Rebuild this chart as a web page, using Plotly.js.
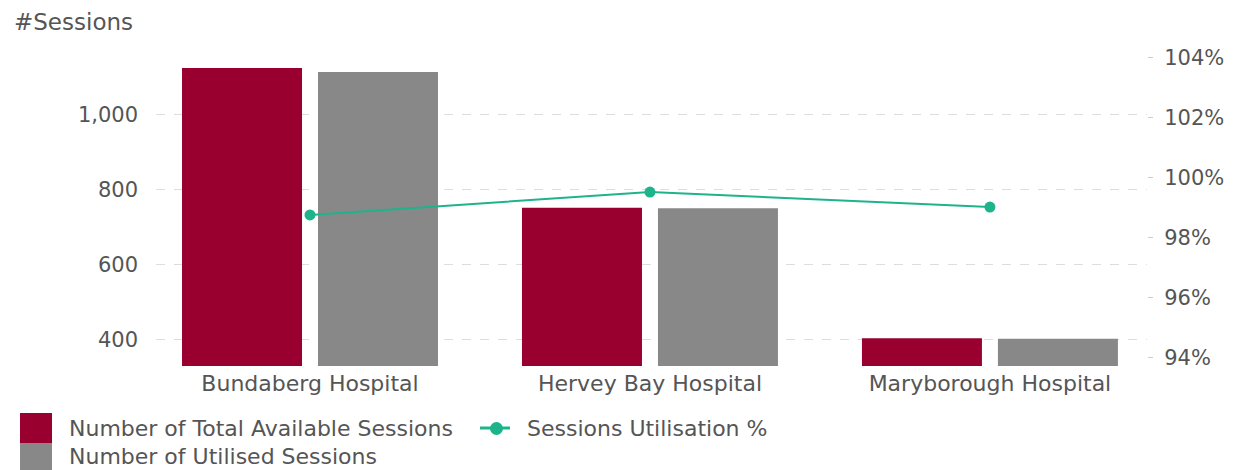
<!DOCTYPE html>
<html>
<head>
<meta charset="utf-8">
<script src="https://cdn.plot.ly/plotly-3.0.1.min.js"></script>
<style>
  html, body { margin: 0; padding: 0; background: #ffffff; }
  #chart { width: 1234px; height: 470px; }
</style>
</head>
<body>
<div id="chart"></div>
<script>
// ---- Data ----
const categories = ['Bundaberg Hospital', 'Hervey Bay Hospital', 'Maryborough Hospital'];
const availableSessions = [1124, 751, 403];
const utilisedSessions = [1113, 750, 402];
const utilisationPct = [0.9877, 0.9953, 0.9903];
const seriesNames = ['Number of Total Available Sessions', 'Number of Utilised Sessions', 'Sessions Utilisation %'];
const leftTickValues = [400, 600, 800, 1000];
const rightTickValues = [0.94, 0.96, 0.98, 1.00, 1.02, 1.04];

// ---- Styles ----
const W = 1234, H = 470;
const M = { l: 156, r: 87, t: 45, b: 104 };
const colAvail = '#990030';
const colUsed = '#888888';
const colLine = '#1db48c';
const textCol = '#555555';
const FONT = 'DejaVu Sans, sans-serif';

const plotW = W - M.l - M.r, plotH = H - M.t - M.b;
const px = x => (x - M.l) / plotW;           // pixel x -> paper x
const py = y => (H - M.b - y) / plotH;       // pixel y -> paper y

const traces = [
  { type: 'bar', name: seriesNames[0], x: categories, y: availableSessions,
    marker: { color: colAvail }, yaxis: 'y', showlegend: false, hoverinfo: 'skip' },
  { type: 'bar', name: seriesNames[1], x: categories, y: utilisedSessions,
    marker: { color: colUsed }, yaxis: 'y', showlegend: false, hoverinfo: 'skip' },
  { type: 'scatter', mode: 'lines+markers', name: seriesNames[2], x: categories, y: utilisationPct,
    yaxis: 'y2', line: { color: colLine, width: 2 }, marker: { color: colLine, size: 11 },
    showlegend: false, hoverinfo: 'skip' }
];

// custom legend (large swatches like the original)
const shapes = [
  { type: 'rect', xref: 'paper', yref: 'paper', x0: px(20), x1: px(52), y0: py(443), y1: py(413),
    fillcolor: colAvail, line: { width: 0 } },
  { type: 'rect', xref: 'paper', yref: 'paper', x0: px(20), x1: px(52), y0: py(472), y1: py(443),
    fillcolor: colUsed, line: { width: 0 } },
  { type: 'line', xref: 'paper', yref: 'paper', x0: px(480), x1: px(510), y0: py(428), y1: py(428),
    line: { color: colLine, width: 3 } },
  { type: 'circle', xref: 'paper', yref: 'paper', x0: px(490), x1: px(503), y0: py(435), y1: py(422),
    fillcolor: colLine, line: { width: 0 } }
];
const annotations = [
  { xref: 'paper', yref: 'paper', x: px(67), y: py(428), xanchor: 'left', yanchor: 'middle',
    text: seriesNames[0], showarrow: false, font: { family: FONT, size: 22, color: textCol } },
  { xref: 'paper', yref: 'paper', x: px(67), y: py(456), xanchor: 'left', yanchor: 'middle',
    text: seriesNames[1], showarrow: false, font: { family: FONT, size: 22, color: textCol } },
  { xref: 'paper', yref: 'paper', x: px(525), y: py(428), xanchor: 'left', yanchor: 'middle',
    text: seriesNames[2], showarrow: false, font: { family: FONT, size: 22, color: textCol } }
];

const layout = {
  width: W, height: H,
  margin: M,
  paper_bgcolor: '#ffffff', plot_bgcolor: '#ffffff',
  font: { family: FONT, color: textCol, size: 22 },
  title: { text: '#Sessions', xref: 'container', yref: 'container', x: 14 / W, xanchor: 'left',
           y: 1 - 22 / H, yanchor: 'middle', font: { family: FONT, size: 23, color: textCol } },
  barmode: 'group', bargap: 0.2, bargroupgap: 0.1176,
  showlegend: false,
  xaxis: { type: 'category', range: [-0.453, 2.462], showgrid: false, zeroline: false, showline: false,
           ticks: '', tickfont: { family: FONT, size: 22, color: textCol }, ticklabelstandoff: 2 },
  yaxis: { range: [329, 1185], tickmode: 'array', tickvals: leftTickValues, tickformat: ',d',
           showgrid: true, gridcolor: '#dddddd', griddash: 'dash', gridwidth: 1,
           zeroline: false, showline: false, ticks: '', ticklabelstandoff: 17,
           tickfont: { family: FONT, size: 21, color: textCol } },
  yaxis2: { overlaying: 'y', side: 'right', range: [0.93733, 1.04433], tickmode: 'array',
            tickvals: rightTickValues, tickformat: '.0%', showgrid: false, zeroline: false, showline: false,
            ticks: 'outside', ticklen: 5, tickcolor: '#cccccc', ticklabelstandoff: 7,
            tickfont: { family: FONT, size: 21, color: textCol } },
  shapes: shapes,
  annotations: annotations
};

Plotly.newPlot('chart', traces, layout, { staticPlot: true, displayModeBar: false });
</script>
</body>
</html>
